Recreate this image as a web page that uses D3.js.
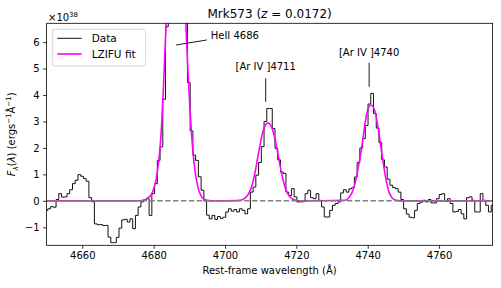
<!DOCTYPE html>
<html>
<head>
<meta charset="utf-8">
<script src="https://cdn.jsdelivr.net/npm/d3@7"></script>
<style>
  body { margin: 0; background: #fff; }
  svg { display: block; font-family: "DejaVu Sans", sans-serif; }
</style>
</head>
<body>
<div id="chart"></div>
<script>
// Spectrum bins in rest-frame wavelength, flux in units of 1e38
const waveStart = 4649.585;
const waveStep = 0.767;
const flux = [
  -0.36, -0.30, -0.22, -0.24, 0.05, 0.27, 0.14, 0.15, 0.27, 0.42,
  0.65, 0.78, 0.99, 0.93, 0.84, 0.74, 0.12, -0.03, -0.87, -0.90,
  -0.90, -0.93, -0.93, -1.37, -1.58, -1.58, -1.38, -1.03, -0.72, -0.70,
  -0.80, -0.68, -1.05, -0.55, -0.23, -0.04, 0.04, 0.08, -0.55, 0.27,
  0.65, 1.53, 2.04, 3.84, 6.58, 9.5, 11.5, 12.6, 12.2, 10.6,
  8.6, 7.1, 4.47, 2.64, 1.73, 1.53, 0.91, 0.40, 0.00, -0.54,
  -0.68, -0.55, -0.70, -0.59, -0.66, -0.62, -0.42, -0.30, -0.39, -0.33,
  -0.42, -0.30, -0.36, -0.49, -0.30, 0.33, 0.52, 0.97, 1.45, 2.05,
  3.00, 3.49, 3.49, 2.73, 1.98, 1.55, 1.09, 1.03, 0.33, 0.20,
  0.46, 0.15, -0.04, -0.04, -0.03, 0.27, 0.40, 0.12, 0.08, 0.27,
  0.02, -0.23, -0.61, -0.61, -0.36, -0.17, -0.10, -0.04, 0.30, 0.42,
  0.33, 0.45, 0.50, 0.90, 1.45, 2.00, 2.35, 2.85, 3.66, 4.06,
  3.30, 2.75, 2.20, 1.55, 1.28, 0.82, 0.59, 0.50, 0.46, 0.33,
  0.05, -0.30, -0.50, -0.62, -0.64, -0.36, -0.10, -0.05, 0.02, -0.04,
  0.05, -0.08, -0.08, 0.08, 0.24, 0.27, -0.02, 0.08, -0.10, -0.42,
  -0.40, -0.33, -0.49, -0.68, 0.12, 0.15, 0.02, -0.42, -0.42, 0.27,
  0.02, -0.17, -0.42, -0.17
];

// LZIFU fit
const fitWave = [
  4650, 4676, 4677.5, 4678.25, 4679.25, 4680, 4680.75, 4681.25, 4681.75, 4682.25,
  4682.75, 4683.25, 4683.75, 4684.25, 4685.25, 4686.25, 4687.25, 4688.25, 4688.75, 4689.25,
  4689.75, 4690.25, 4690.75, 4691.25, 4691.75, 4692.25, 4692.75, 4693.25, 4693.75, 4694.5,
  4695.5, 4697, 4703.5, 4704.5, 4705.5, 4706.5, 4707.5, 4708.5, 4709.5, 4710.5,
  4711.5, 4712.1, 4713, 4714, 4715, 4716, 4717, 4718, 4719, 4720,
  4721, 4733.5, 4734.6, 4735.5, 4736.45, 4737.4, 4738.35, 4739.25, 4740, 4740.95,
  4742.05, 4743, 4743.95, 4744.9, 4745.8, 4746.9, 4748, 4749, 4775
];
const fitFlux = [
  0, 0, 0.03, 0.1, 0.22, 0.45, 0.85, 1.3, 1.95, 2.9,
  4.3, 5.9, 7.4, 9.0, 11.6, 12.9, 11.8, 9.2, 7.6, 6.0,
  4.55, 3.3, 2.3, 1.55, 1.0, 0.62, 0.36, 0.2, 0.1, 0.04,
  0.01, 0, 0.01, 0.03, 0.09, 0.24, 0.55, 1.13, 1.88, 2.55,
  2.9, 2.94, 2.8, 2.35, 1.65, 0.95, 0.45, 0.18, 0.06, 0.015,
  0, 0.02, 0.1, 0.28, 0.66, 1.29, 2.05, 2.92, 3.44, 3.62,
  3.37, 2.68, 1.80, 0.97, 0.40, 0.1, 0.02, 0, 0
];

const xTicks = [4660, 4680, 4700, 4720, 4740, 4760];
const yTicks = [-1, 0, 1, 2, 3, 4, 5, 6];
const legendLabels = ['Data', 'LZIFU fit'];

// line labels: text anchor point and marker line, in data units
const annotations = [
  { text: 'HeII 4686', tx: 4696.0, ty: 6.12, anchor: 'start', x1: 4686.3, y1: 5.89, x2: 4694.9, y2: 6.08 },
  { text: '[Ar IV ]4711', tx: 4711.4, ty: 4.94, anchor: 'middle', x1: 4711.4, y1: 4.63, x2: 4711.4, y2: 3.74 },
  { text: '[Ar IV ]4740', tx: 4740.4, ty: 5.49, anchor: 'middle', x1: 4740.4, y1: 5.22, x2: 4740.4, y2: 4.31 }
];

const W = 501, H = 288;
const m = { top: 23.3, right: 8.4, bottom: 42.7, left: 46.6 };
const iw = W - m.left - m.right, ih = H - m.top - m.bottom;

const x = d3.scaleLinear().domain([4650, 4775]).range([m.left, W - m.right]);
const y = d3.scaleLinear().domain([-1.68, 6.71]).range([H - m.bottom, m.top]);

const svg = d3.select('#chart').append('svg')
  .attr('width', W)
  .attr('height', H);

svg.append('rect').attr('width', W).attr('height', H).attr('fill', '#fff');

svg.append('defs').append('clipPath').attr('id', 'clip')
  .append('rect')
  .attr('x', m.left).attr('y', m.top)
  .attr('width', iw).attr('height', ih);

const plot = svg.append('g').attr('clip-path', 'url(#clip)');

// data as steps
const steps = flux.map((f, i) => [waveStart + i * waveStep, f]);
steps.push([waveStart + flux.length * waveStep, flux[flux.length - 1]]);

plot.append('path')
  .datum(steps)
  .attr('fill', 'none')
  .attr('stroke', '#111')
  .attr('stroke-width', 1)
  .attr('d', d3.line().x(d => x(d[0])).y(d => y(d[1])).curve(d3.curveStepAfter));

// fit
const fitPts = fitWave.map((w, i) => [w, fitFlux[i]]);
plot.append('path')
  .datum(fitPts)
  .attr('fill', 'none')
  .attr('stroke', '#ff00ff')
  .attr('stroke-width', 1.6)
  .attr('d', d3.line().x(d => x(d[0])).y(d => y(d[1])).curve(d3.curveMonotoneX));

// zero line
plot.append('line')
  .attr('x1', x(4650)).attr('x2', x(4775))
  .attr('y1', y(0)).attr('y2', y(0))
  .attr('stroke', '#808080')
  .attr('stroke-width', 1.5)
  .attr('stroke-dasharray', '5.5,2.4');

// axes
const xAxis = svg.append('g')
  .attr('transform', `translate(0,${H - m.bottom})`)
  .call(d3.axisBottom(x).tickValues(xTicks).tickFormat(d3.format('d')).tickSize(3.5).tickPadding(3.5).tickSizeOuter(0));

const yAxis = svg.append('g')
  .attr('transform', `translate(${m.left},0)`)
  .call(d3.axisLeft(y).tickValues(yTicks).tickFormat(d3.format('d')).tickSize(3.5).tickPadding(3.5).tickSizeOuter(0));

[xAxis, yAxis].forEach(a => {
  a.select('.domain').remove();
  a.selectAll('line').attr('stroke', '#000').attr('stroke-width', 0.8);
  a.selectAll('text').attr('fill', '#000').style('font-size', '10px').style('font-family', '"DejaVu Sans", sans-serif');
});

// frame
svg.append('rect')
  .attr('x', m.left).attr('y', m.top)
  .attr('width', iw).attr('height', ih)
  .attr('fill', 'none')
  .attr('stroke', '#000')
  .attr('stroke-width', 0.8);

// annotations
annotations.forEach(a => {
  svg.append('line')
    .attr('x1', x(a.x1)).attr('y1', y(a.y1))
    .attr('x2', x(a.x2)).attr('y2', y(a.y2))
    .attr('stroke', '#000')
    .attr('stroke-width', 0.9);
  svg.append('text')
    .attr('x', x(a.tx)).attr('y', y(a.ty))
    .attr('text-anchor', a.anchor)
    .style('font-size', '10px')
    .text(a.text);
});

// title
const title = svg.append('text')
  .attr('x', m.left + iw / 2)
  .attr('y', 18)
  .attr('text-anchor', 'middle')
  .style('font-size', '12px');
title.append('tspan').text('Mrk573 (');
title.append('tspan').style('font-style', 'italic').text('z');
title.append('tspan').text(' = 0.0172)');

// offset label
const off = svg.append('text')
  .attr('x', 48)
  .attr('y', 20.5)
  .style('font-size', '10px');
off.append('tspan').text('\u00d710');
off.append('tspan').attr('dy', -4).style('font-size', '7px').text('38');

// axis labels
svg.append('text')
  .attr('x', m.left + iw / 2)
  .attr('y', 274)
  .attr('text-anchor', 'middle')
  .style('font-size', '10px')
  .text('Rest-frame wavelength (\u00c5)');

const yl = svg.append('text')
  .attr('transform', `translate(15,${m.top + ih / 2}) rotate(-90)`)
  .attr('text-anchor', 'middle')
  .style('font-size', '10px');
yl.append('tspan').style('font-style', 'italic').text('F');
yl.append('tspan').attr('dy', 2.5).style('font-size', '7px').style('font-style', 'italic').text('\u03bb');
yl.append('tspan').attr('dy', -2.5).text('(');
yl.append('tspan').style('font-style', 'italic').text('\u03bb');
yl.append('tspan').text(') (ergs');
yl.append('tspan').attr('dy', -4).style('font-size', '7px').text('\u22121');
yl.append('tspan').attr('dy', 4).text('\u00c5');
yl.append('tspan').attr('dy', -4).style('font-size', '7px').text('\u22121');
yl.append('tspan').attr('dy', 4).text(')');

// legend
const legend = svg.append('g').attr('class', 'legend');
legend.append('rect')
  .attr('x', 52.3).attr('y', 29.3)
  .attr('width', 93.4).attr('height', 36.7)
  .attr('rx', 2.5)
  .attr('fill', '#fff').attr('fill-opacity', 0.8)
  .attr('stroke', '#ccc').attr('stroke-width', 0.8);

const legendColors = ['#111', '#ff00ff'];
const legendWidths = [1, 1.6];
legendLabels.forEach((lab, i) => {
  const ly = 38.3 + i * 15.7;
  legend.append('line')
    .attr('x1', 57.3).attr('x2', 81.7)
    .attr('y1', ly).attr('y2', ly)
    .attr('stroke', legendColors[i])
    .attr('stroke-width', legendWidths[i]);
  legend.append('text')
    .attr('x', 91.7).attr('y', ly + 3.8)
    .style('font-size', '10.5px')
    .text(lab);
});
</script>
</body>
</html>
